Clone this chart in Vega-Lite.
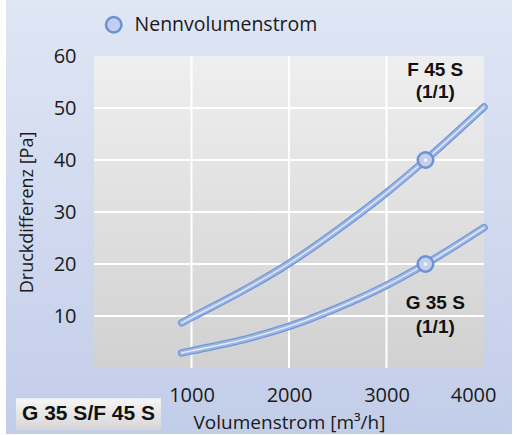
{
  "$schema": "https://vega.github.io/schema/vega-lite/v6.json",
  "width": 390,
  "height": 312,
  "autosize": {"type": "none"},
  "padding": {"left": 94, "top": 56, "right": 33, "bottom": 67},
  "background": "#ffffff",
  "config": {"view": {"stroke": null}, "font": "Open Sans"},
  "datasets": {
    "curves": [
      {"series": "F 45 S", "flow": 900, "dp": 8.7},
      {"series": "F 45 S", "flow": 1000, "dp": 9.7},
      {"series": "F 45 S", "flow": 1500, "dp": 14.6},
      {"series": "F 45 S", "flow": 2000, "dp": 20.1},
      {"series": "F 45 S", "flow": 2500, "dp": 26.6},
      {"series": "F 45 S", "flow": 3000, "dp": 33.7},
      {"series": "F 45 S", "flow": 3400, "dp": 40},
      {"series": "F 45 S", "flow": 4000, "dp": 50.2},
      {"series": "G 35 S", "flow": 900, "dp": 2.9},
      {"series": "G 35 S", "flow": 1000, "dp": 3.3},
      {"series": "G 35 S", "flow": 1500, "dp": 5.3},
      {"series": "G 35 S", "flow": 2000, "dp": 8.0},
      {"series": "G 35 S", "flow": 2500, "dp": 11.6},
      {"series": "G 35 S", "flow": 3000, "dp": 15.9},
      {"series": "G 35 S", "flow": 3400, "dp": 20},
      {"series": "G 35 S", "flow": 4000, "dp": 27}
    ],
    "nominal": [
      {"series": "F 45 S", "flow": 3400, "dp": 40, "kind": "Nennvolumenstrom"},
      {"series": "G 35 S", "flow": 3400, "dp": 20, "kind": "Nennvolumenstrom"}
    ],
    "labels": [
      {"flow": 3500, "dp": 57.3, "text": "F 45 S"},
      {"flow": 3500, "dp": 53.1, "text": "(1/1)"},
      {"flow": 3500, "dp": 12.5, "text": "G 35 S"},
      {"flow": 3500, "dp": 7.9, "text": "(1/1)"}
    ],
    "gridx": [{"flow": 1000}, {"flow": 2000}, {"flow": 3000}],
    "gridy": [{"dp": 10}, {"dp": 20}, {"dp": 30}, {"dp": 40}, {"dp": 50}]
  },
  "layer": [
    {
      "data": {"values": [{}]},
      "mark": {"type": "rect", "fill": {"gradient": "linear", "x1": 0, "y1": 0, "x2": 0, "y2": 1, "stops": [{"offset": 0, "color": "#dfe6f4"}, {"offset": 1, "color": "#c2cde9"}]}},
      "encoding": {
        "x": {"datum": -903, "type": "quantitative", "scale": {"domain": [0, 4000], "nice": false}},
        "x2": {"datum": 4287},
        "y": {"datum": 71, "type": "quantitative", "scale": {"domain": [0, 60], "nice": false}},
        "y2": {"datum": -12.7}
      }
    },
    {
      "data": {"values": [{}]},
      "mark": {"type": "rect", "fill": {"gradient": "linear", "x1": 0, "y1": 0, "x2": 0, "y2": 1, "stops": [{"offset": 0, "color": "#efefef"}, {"offset": 1, "color": "#d1d1d1"}]}},
      "encoding": {
        "x": {"datum": 0, "type": "quantitative", "scale": {"domain": [0, 4000], "nice": false}},
        "x2": {"datum": 4000},
        "y": {"datum": 60, "type": "quantitative", "scale": {"domain": [0, 60], "nice": false}},
        "y2": {"datum": 0}
      }
    },
    {
      "data": {"name": "gridx"},
      "mark": {"type": "rule", "color": "#ffffff", "strokeWidth": 2},
      "encoding": {
        "x": {"field": "flow", "type": "quantitative", "scale": {"domain": [0, 4000], "nice": false}}
      }
    },
    {
      "data": {"name": "gridy"},
      "mark": {"type": "rule", "color": "#ffffff", "strokeWidth": 2},
      "encoding": {
        "y": {"field": "dp", "type": "quantitative", "scale": {"domain": [0, 60], "nice": false}}
      }
    },
    {
      "data": {"name": "curves"},
      "mark": {"type": "line", "color": "#7097d6", "strokeWidth": 7.5, "strokeCap": "round", "interpolate": "monotone"},
      "encoding": {
        "x": {"field": "flow", "type": "quantitative", "scale": {"domain": [0, 4000], "nice": false},
          "axis": {"values": [1000, 2000, 3000, 4000], "format": "d", "grid": false, "domain": false, "ticks": false, "labelFontSize": 20, "labelColor": "#1a1a1a", "labelPadding": 17, "labelFlush": true, "labelFlushOffset": 12, "title": "Volumenstrom [m³/h]", "titleFontSize": 19, "titleFontWeight": "normal", "titleColor": "#1a1a1a", "titlePadding": 8, "zindex": 1}},
        "y": {"field": "dp", "type": "quantitative", "scale": {"domain": [0, 60], "nice": false},
          "axis": {"values": [10, 20, 30, 40, 50, 60], "grid": false, "domain": false, "ticks": false, "labelFontSize": 20, "labelColor": "#1a1a1a", "labelPadding": 18, "title": "Druckdifferenz [Pa]", "titleFontSize": 18, "titleFontWeight": "normal", "titleColor": "#1a1a1a", "titlePadding": 17, "zindex": 1}},
        "detail": {"field": "series"}
      }
    },
    {
      "data": {"name": "curves"},
      "mark": {"type": "line", "color": "#9fb7e5", "strokeWidth": 5, "strokeCap": "round", "interpolate": "monotone"},
      "encoding": {
        "x": {"field": "flow", "type": "quantitative", "scale": {"domain": [0, 4000], "nice": false}},
        "y": {"field": "dp", "type": "quantitative", "scale": {"domain": [0, 60], "nice": false}},
        "detail": {"field": "series"}
      }
    },
    {
      "data": {"name": "curves"},
      "mark": {"type": "line", "color": "#e6edfa", "strokeWidth": 1.3, "strokeCap": "round", "interpolate": "monotone"},
      "encoding": {
        "x": {"field": "flow", "type": "quantitative", "scale": {"domain": [0, 4000], "nice": false}},
        "y": {"field": "dp", "type": "quantitative", "scale": {"domain": [0, 60], "nice": false}},
        "detail": {"field": "series"}
      }
    },
    {
      "data": {"name": "nominal"},
      "mark": {"type": "point", "shape": "circle", "filled": true, "opacity": 1, "stroke": "#6b93d3", "strokeWidth": 2.5, "size": 240},
      "encoding": {
        "x": {"field": "flow", "type": "quantitative", "scale": {"domain": [0, 4000], "nice": false}},
        "y": {"field": "dp", "type": "quantitative", "scale": {"domain": [0, 60], "nice": false}},
        "fill": {"field": "kind", "type": "nominal", "scale": {"range": ["#c4cfee"]},
          "legend": {"title": null, "orient": "none", "legendX": 10, "legendY": -41, "padding": 0, "symbolType": "circle", "symbolSize": 240, "symbolStrokeColor": "#6b93d3", "symbolStrokeWidth": 2.5, "symbolOpacity": 1, "labelFontSize": 19.5, "labelLimit": 400, "labelColor": "#1a1a1a", "labelOffset": 11}}
      }
    },
    {
      "data": {"name": "nominal"},
      "mark": {"type": "point", "shape": "circle", "filled": true, "opacity": 1, "color": "#eef2fb", "size": 14},
      "encoding": {
        "x": {"field": "flow", "type": "quantitative", "scale": {"domain": [0, 4000], "nice": false}},
        "y": {"field": "dp", "type": "quantitative", "scale": {"domain": [0, 60], "nice": false}}
      }
    },
    {
      "data": {"name": "labels"},
      "mark": {"type": "text", "font": "Liberation Sans", "fontWeight": "bold", "fontSize": 19, "color": "#111111", "align": "center", "baseline": "middle"},
      "encoding": {
        "x": {"field": "flow", "type": "quantitative", "scale": {"domain": [0, 4000], "nice": false}},
        "y": {"field": "dp", "type": "quantitative", "scale": {"domain": [0, 60], "nice": false}},
        "text": {"field": "text"}
      }
    },
    {
      "data": {"values": [{}]},
      "mark": {"type": "rect", "fill": {"gradient": "linear", "x1": 0, "y1": 0, "x2": 0, "y2": 1, "stops": [{"offset": 0, "color": "#f6f6f6"}, {"offset": 1, "color": "#d6d6d6"}]}},
      "encoding": {
        "x": {"datum": -800, "type": "quantitative", "scale": {"domain": [0, 4000], "nice": false}},
        "x2": {"datum": 687},
        "y": {"datum": -5.8, "type": "quantitative", "scale": {"domain": [0, 60], "nice": false}},
        "y2": {"datum": -11.9}
      }
    },
    {
      "data": {"values": [{"text": "G 35 S/F 45 S"}]},
      "mark": {"type": "text", "font": "Liberation Sans", "fontWeight": "bold", "fontSize": 21, "color": "#111111", "align": "center", "baseline": "middle"},
      "encoding": {
        "x": {"datum": -56, "type": "quantitative", "scale": {"domain": [0, 4000], "nice": false}},
        "y": {"datum": -8.85, "type": "quantitative", "scale": {"domain": [0, 60], "nice": false}},
        "text": {"field": "text"}
      }
    }
  ]
}
